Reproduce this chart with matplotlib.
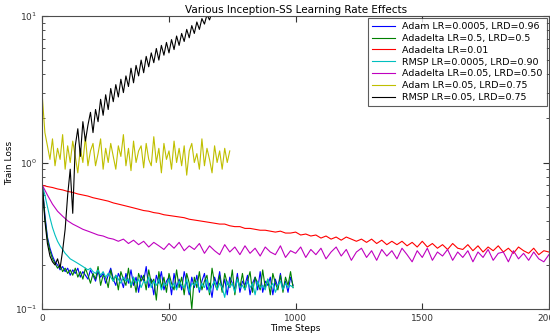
import matplotlib
matplotlib.use('Agg')
import matplotlib.pyplot as plt

steps_1000 = list(range(0, 1000, 10))
steps_2000 = list(range(0, 2001, 20))
steps_yellow = list(range(0, 750, 10))
steps_black = list(range(0, 730, 10))

adam_small = [
    0.70, 0.44, 0.31, 0.26, 0.23, 0.21, 0.20, 0.185, 0.195, 0.18,
    0.19, 0.17, 0.185, 0.175, 0.19, 0.165, 0.18, 0.17, 0.16, 0.185,
    0.17, 0.155, 0.18, 0.165, 0.175, 0.15, 0.17, 0.19, 0.16, 0.145,
    0.175, 0.16, 0.14, 0.175, 0.15, 0.185, 0.145, 0.165, 0.13, 0.17,
    0.155, 0.195, 0.14, 0.16, 0.125, 0.17, 0.15, 0.18, 0.135, 0.155,
    0.165, 0.125, 0.175, 0.14, 0.16, 0.135, 0.18, 0.15, 0.125, 0.165,
    0.14, 0.17, 0.13, 0.155, 0.175, 0.135, 0.15, 0.12, 0.165, 0.145,
    0.18, 0.135, 0.16, 0.125, 0.165, 0.15, 0.135, 0.175, 0.13, 0.155,
    0.145, 0.17, 0.125, 0.15, 0.165, 0.135, 0.18, 0.13, 0.155, 0.145,
    0.165, 0.125, 0.16, 0.14, 0.175, 0.135, 0.155, 0.13, 0.165, 0.145,
]
adadelta_big = [
    0.70, 0.42, 0.30, 0.25, 0.22, 0.205, 0.19, 0.20, 0.18, 0.19,
    0.175, 0.185, 0.17, 0.19, 0.165, 0.18, 0.16, 0.19, 0.17, 0.15,
    0.175, 0.16, 0.195, 0.145, 0.17, 0.165, 0.14, 0.185, 0.155, 0.17,
    0.135, 0.18, 0.16, 0.145, 0.19, 0.14, 0.165, 0.13, 0.175, 0.155,
    0.17, 0.135, 0.185, 0.15, 0.16, 0.115, 0.18, 0.14, 0.165, 0.13,
    0.175, 0.15, 0.135, 0.185, 0.14, 0.165, 0.125, 0.175, 0.15, 0.10,
    0.165, 0.14, 0.18, 0.135, 0.155, 0.17, 0.125, 0.19, 0.15, 0.135,
    0.17, 0.13, 0.175, 0.15, 0.14, 0.185, 0.125, 0.165, 0.14, 0.175,
    0.135, 0.155, 0.18, 0.13, 0.165, 0.15, 0.135, 0.185, 0.14, 0.16,
    0.125, 0.175, 0.15, 0.135, 0.17, 0.13, 0.165, 0.145, 0.18, 0.14,
]
adadelta_001 = [
    0.70, 0.685, 0.675, 0.66, 0.65, 0.635, 0.625, 0.61, 0.60, 0.59,
    0.575, 0.565, 0.555, 0.545, 0.53, 0.52, 0.51, 0.50, 0.49, 0.48,
    0.47, 0.465, 0.455, 0.45, 0.44, 0.435, 0.43, 0.425, 0.42, 0.41,
    0.405, 0.40, 0.395, 0.39, 0.385, 0.38, 0.38, 0.37, 0.365, 0.365,
    0.355, 0.355, 0.35, 0.345, 0.345, 0.34, 0.335, 0.34, 0.33, 0.33,
    0.335, 0.32, 0.325, 0.315, 0.32, 0.305, 0.315, 0.30, 0.31, 0.295,
    0.31, 0.30, 0.29, 0.30, 0.285, 0.30, 0.28, 0.295, 0.275, 0.29,
    0.275, 0.29, 0.27, 0.285, 0.265, 0.29, 0.265, 0.28, 0.26, 0.275,
    0.255, 0.28, 0.26, 0.255, 0.275, 0.25, 0.27, 0.245, 0.265, 0.25,
    0.27, 0.245, 0.26, 0.24, 0.265, 0.25, 0.24, 0.26, 0.235, 0.25,
    0.245,
]
rmsp_small = [
    0.70, 0.60, 0.50, 0.42, 0.36, 0.32, 0.29, 0.27, 0.255, 0.24,
    0.23, 0.22, 0.215, 0.21, 0.205, 0.20, 0.195, 0.19, 0.185, 0.19,
    0.18, 0.175, 0.185, 0.17, 0.18, 0.165, 0.175, 0.165, 0.155, 0.17,
    0.16, 0.15, 0.165, 0.155, 0.16, 0.145, 0.165, 0.15, 0.16, 0.14,
    0.155, 0.15, 0.165, 0.14, 0.155, 0.145, 0.16, 0.135, 0.15, 0.145,
    0.16, 0.14, 0.15, 0.135, 0.155, 0.145, 0.14, 0.16, 0.13, 0.15,
    0.145, 0.155, 0.135, 0.15, 0.14, 0.16, 0.13, 0.145, 0.155, 0.135,
    0.15, 0.14, 0.12, 0.155, 0.14, 0.15, 0.13, 0.16, 0.14, 0.145,
    0.135, 0.155, 0.14, 0.15, 0.125, 0.155, 0.14, 0.145, 0.135, 0.16,
    0.14, 0.15, 0.13, 0.145, 0.155, 0.135, 0.15, 0.14, 0.145, 0.14,
]
adadelta_005 = [
    0.70, 0.60, 0.52, 0.465, 0.43, 0.40, 0.38, 0.365, 0.35, 0.34,
    0.33, 0.32, 0.315, 0.305, 0.30, 0.29, 0.30, 0.28, 0.295, 0.275,
    0.29, 0.265, 0.285, 0.27, 0.255, 0.28, 0.26, 0.285, 0.25, 0.27,
    0.255, 0.28, 0.24, 0.27, 0.25, 0.235, 0.275, 0.245, 0.265, 0.235,
    0.27, 0.24, 0.26, 0.23, 0.265, 0.245, 0.235, 0.27, 0.225, 0.25,
    0.24, 0.265, 0.225, 0.255, 0.235, 0.26, 0.22, 0.245, 0.265, 0.23,
    0.255, 0.215, 0.245, 0.26, 0.225, 0.25, 0.215, 0.255, 0.23, 0.25,
    0.22, 0.26, 0.235, 0.21, 0.25, 0.225, 0.26, 0.215, 0.245, 0.23,
    0.255, 0.215, 0.245, 0.225, 0.25, 0.21, 0.245, 0.225, 0.255, 0.215,
    0.24, 0.245, 0.21, 0.25, 0.22, 0.24, 0.215, 0.245, 0.22, 0.21,
    0.235,
]
adam_big = [
    2.8, 1.6, 1.3, 1.05, 1.45, 0.95, 1.25, 1.05, 1.55, 0.9,
    1.3, 1.0, 1.4, 1.1, 0.85, 1.25, 1.0, 1.5, 0.95, 1.2,
    1.35, 0.95, 1.15, 1.45, 0.9, 1.25, 1.0, 1.35, 1.1, 0.9,
    1.3, 1.1, 1.55, 0.95, 1.25, 0.88, 1.4, 1.0, 1.2, 1.3,
    0.92, 1.35, 1.05, 0.95, 1.5, 1.0, 1.25, 0.85, 1.35, 1.05,
    1.2, 0.9, 1.4, 1.0, 1.25, 0.95, 1.3, 0.82, 1.2, 1.35,
    1.0, 1.15, 0.9, 1.45, 0.95, 1.25, 1.05, 0.85, 1.3, 1.0,
    1.2, 0.9, 1.25, 1.0, 1.2,
]
rmsp_big = [
    0.70, 0.40, 0.28, 0.23, 0.21, 0.20, 0.22, 0.19, 0.25, 0.35,
    0.60, 0.90, 0.45, 1.30, 1.70, 1.10, 1.90, 1.40, 1.80, 2.20,
    1.60, 2.30, 1.90, 2.70, 2.10, 2.90, 2.30, 3.20, 2.60, 3.40,
    2.80, 3.70, 3.00, 3.90, 3.30, 4.40, 3.50, 4.60, 3.90, 5.00,
    4.10, 5.30, 4.50, 5.60, 4.80, 6.00, 5.00, 6.30, 5.40, 6.60,
    5.60, 6.90, 5.90, 7.30, 6.30, 7.60, 6.70, 8.10, 7.10, 8.60,
    7.60, 9.10, 8.10, 9.60, 8.80, 10.2, 9.40, 10.6, 9.90, 11.0,
    10.4, 11.4, 10.8,
]

labels = [
    'Adam LR=0.0005, LRD=0.96',
    'Adadelta LR=0.5, LRD=0.5',
    'Adadelta LR=0.01',
    'RMSP LR=0.0005, LRD=0.90',
    'Adadelta LR=0.05, LRD=0.50',
    'Adam LR=0.05, LRD=0.75',
    'RMSP LR=0.05, LRD=0.75',
]

fig = plt.figure(figsize=(5.5, 3.33), dpi=100)
ax = fig.add_axes([0.077, 0.072, 0.921, 0.88])

ax.plot(steps_1000, adam_small, color=(0, 0, 1), lw=0.8, label=labels[0])
ax.plot(steps_1000, adadelta_big, color=(0, 0.5, 0), lw=0.8, label=labels[1])
ax.plot(steps_2000, adadelta_001, color=(1, 0, 0), lw=0.8, label=labels[2])
ax.plot(steps_1000, rmsp_small, color=(0, 0.75, 0.75), lw=0.8, label=labels[3])
ax.plot(steps_2000, adadelta_005, color=(0.75, 0, 0.75), lw=0.8, label=labels[4])
ax.plot(steps_yellow, adam_big, color=(0.75, 0.75, 0), lw=0.8, label=labels[5])
ax.plot(steps_black, rmsp_big, color='k', lw=0.8, label=labels[6])

ax.set_yscale('log')
ax.set_xlim(0, 2000)
ax.set_ylim(0.1, 10)
ax.set_xticks([0, 500, 1000, 1500, 2000])
ax.tick_params(which='both', direction='in', top=True, right=True,
               labelsize=6.5, colors='0.2')
ax.tick_params(which='major', length=4)
ax.tick_params(which='minor', length=2)
for s in ax.spines.values():
    s.set_color('0.3')

ax.set_title('Various Inception-SS Learning Rate Effects', fontsize=7.5, pad=2)
ax.set_xlabel('Time Steps', fontsize=6.5, labelpad=1)
ax.set_ylabel('Train Loss', fontsize=6.5, labelpad=1)

leg = ax.legend(loc='upper right', fontsize=6.8, borderaxespad=0.25,
                handlelength=2.4, labelspacing=0.3, fancybox=False)
leg.get_frame().set_edgecolor('0.2')
leg.get_frame().set_linewidth(0.8)

fig.savefig('out.png', dpi=100)
